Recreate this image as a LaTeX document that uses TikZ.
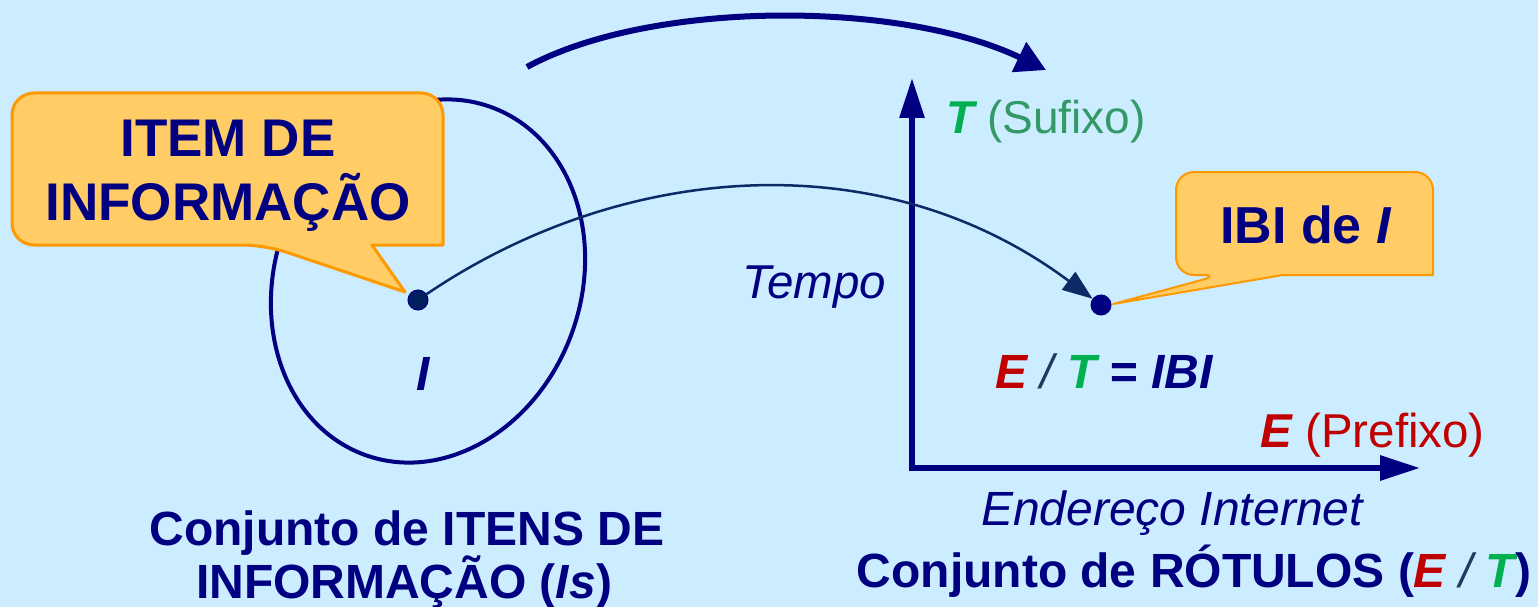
\documentclass[tikz,border=0pt]{standalone}
\usepackage{fontspec}
\setmainfont{Liberation Sans}
\usetikzlibrary{arrows.meta}
\definecolor{bg}{HTML}{CCECFF}
\definecolor{navy}{HTML}{000080}
\definecolor{darknavy}{HTML}{0D2A66}
\definecolor{dotfill}{HTML}{002060}
\definecolor{callfill}{HTML}{FFCC66}
\definecolor{callline}{HTML}{FF9900}
\definecolor{redE}{HTML}{C00000}
\definecolor{greenT}{HTML}{00B050}
\definecolor{seagreen}{HTML}{339966}
\definecolor{slashc}{HTML}{1F3A5F}
\newcommand\fsz[1]{\fontsize{#1}{#1}\selectfont}
\tikzset{
  txt/.style={inner sep=0pt, text=navy},
  callout/.style={fill=callfill, draw=callline, line join=round},
  dotnode/.style={circle, inner sep=0pt, minimum size=20pt, draw=navy, line width=1pt},
  axis/.style={draw=navy, line width=6pt, line join=miter,
    {Triangle[length=40pt,width=24pt]}-{Triangle[length=40pt,width=24pt]}},
}
\begin{document}
\begin{tikzpicture}[x=1pt,y=-1pt]
\fill[bg] (0,0) rectangle (1538,607);
\useasboundingbox (0,0) rectangle (1538,607);

% ellipse (set of information items)
\draw[navy, line width=4pt, rotate around={-20:(428,281)}] (428,281) ellipse [x radius=153, y radius=185];

% big top arrow
\coordinate (a1) at (527,67);
\coordinate (a2) at (1046,70);
\draw[navy, line width=6pt, -{Triangle[length=30pt,width=32pt]}] (a1) .. controls (650,0) and (900,0) .. (a2);

% axes
\coordinate (ytop) at (912,78);
\coordinate (orig) at (912,468);
\coordinate (xend) at (1420,468);
\draw[axis] (ytop) -- (orig) -- (xend);

% callout 1
\draw[callout, line width=3pt] (405,292) -- (372,245) -- (443,245) [rounded corners=22pt] -- (443,93) -- (12,93) -- (12,245) -- (265,245) [sharp corners] -- cycle;
\node[txt, anchor=base, font=\fsz{53}\bfseries] (c1a) at (228,157) {ITEM DE};
\node[txt, anchor=base, font=\fsz{53}\bfseries] (c1b) at (228,220) {INFORMAÇÃO};

% callout 2
\draw[callout, line width=2pt] (1113,304) -- (1283,275) -- (1433,275) [rounded corners=18pt] -- (1433,172) -- (1176,172) -- (1176,275) -- (1220,275) [sharp corners] -- cycle;
\node[txt, anchor=base, font=\fsz{52}\bfseries] (c2) at (1306,243) {IBI de \textit{I}};

% dots and mapping curve
\node[dotnode, fill=dotfill] (d1) at (418,300) {};
\node[dotnode, fill=navy] (d2) at (1101,305) {};
\draw[darknavy, line width=2.5pt, -{Triangle[length=30pt,width=22pt]}] (d1) .. controls (620,163) and (880,140) .. (d2);

% labels
\node[txt, anchor=base, font=\fsz{48}\bfseries\itshape] (ilab) at (423,390) {I};
\node[txt, anchor=base east, font=\fsz{47.5}\itshape] (tempo) at (886,298) {Tempo};
\node[txt, anchor=base west, font=\fsz{46}] (tsuf) at (946,133) {\textcolor{greenT}{\bfseries\itshape T} \textcolor{seagreen}{(Sufixo)}};
\node[txt, anchor=base west, font=\fsz{48}\bfseries\itshape] (eq) at (995,388) {\textcolor{redE}{E} \textcolor{slashc}{\mdseries /} \textcolor{greenT}{T} = IBI};
\node[txt, anchor=base east, font=\fsz{47.5}] (epre) at (1485,447) {\textcolor{redE}{\bfseries\itshape E} \textcolor{redE}{(Prefixo)}};
\node[txt, anchor=base, font=\fsz{48}\itshape] (end) at (1172,525) {Endereço Internet};
\node[txt, anchor=base, font=\fsz{48}\bfseries] (rot) at (1194,587) {Conjunto de RÓTULOS (\textcolor{redE}{\itshape E} \textcolor{slashc}{\mdseries\itshape /} \textcolor{greenT}{\itshape T})};
\node[txt, anchor=base, font=\fsz{48}\bfseries] (cj1) at (407,545) {Conjunto de ITENS DE};
\node[txt, anchor=base, font=\fsz{48}\bfseries] (cj2) at (404,598) {INFORMAÇÃO (\textit{Is})};
\end{tikzpicture}
\end{document}
